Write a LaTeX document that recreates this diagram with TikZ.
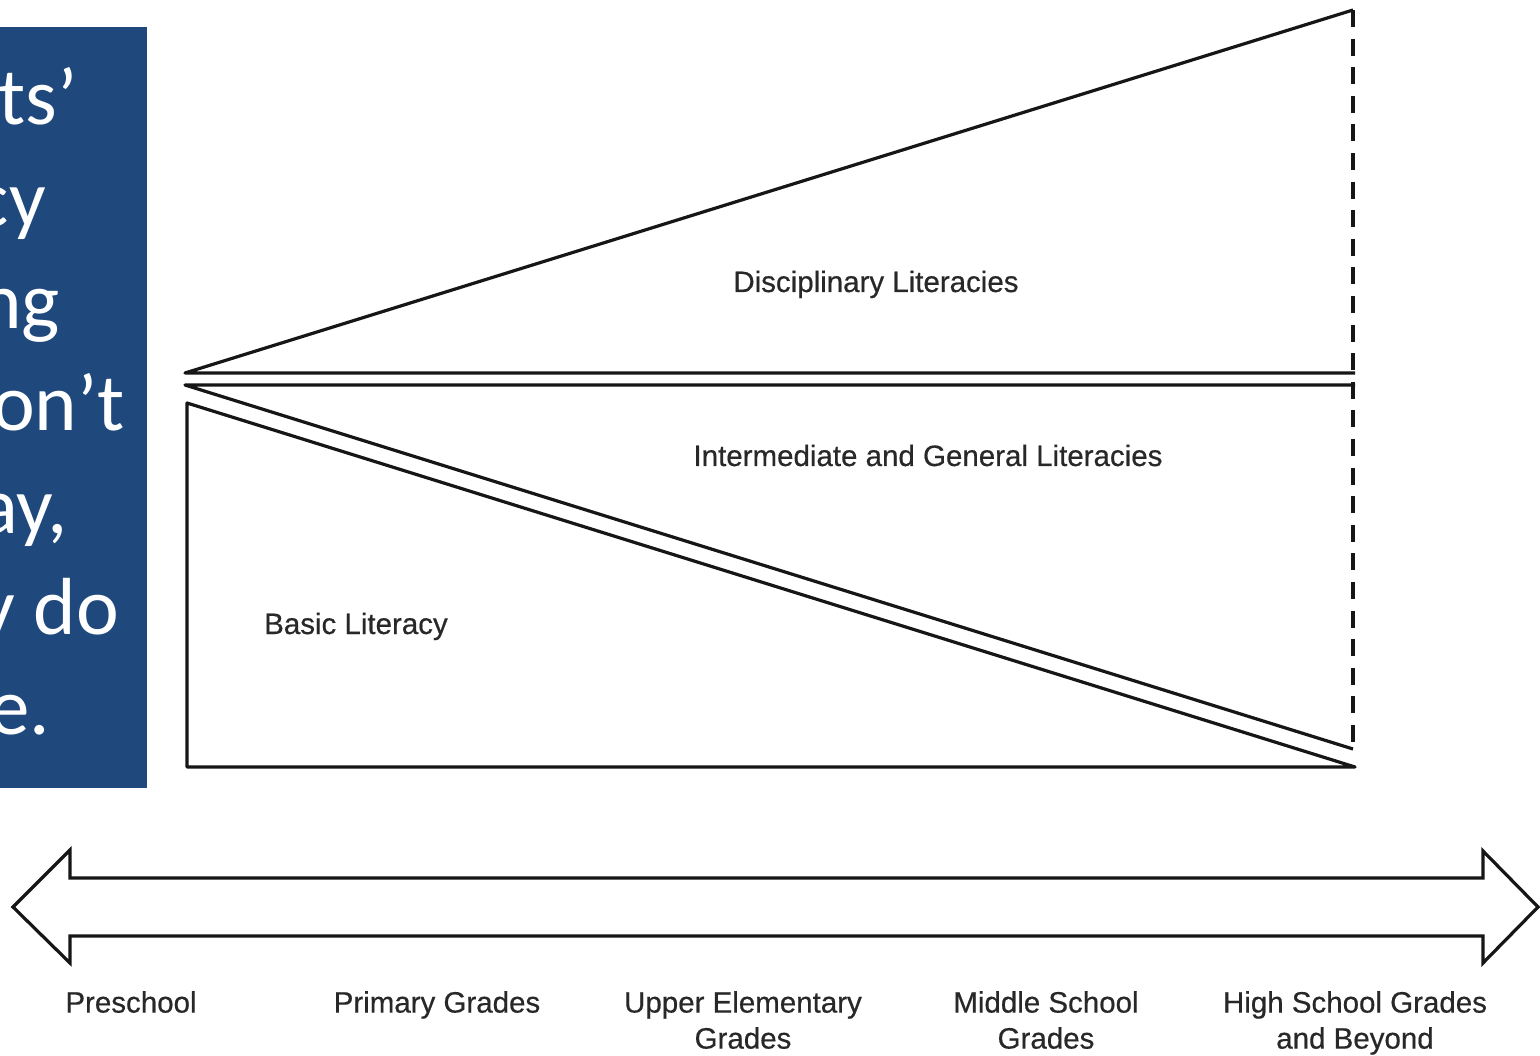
\documentclass[tikz,border=0pt]{standalone}
\usepackage{fontspec}
\setmainfont{Liberation Sans}
\newfontfamily\slidefont{Carlito}
\newfontfamily\diagfont{Liberation Sans}[FakeBold=0.5]
\newcommand\diaglabelfont{\diagfont\fontsize{29.5}{36}\selectfont}
\newcommand\slidetextfont{\slidefont\fontsize{81}{100}\selectfont}
\definecolor{slideblue}{RGB}{31,73,125}
\definecolor{inkline}{RGB}{22,22,22}
\definecolor{inktext}{RGB}{40,40,40}

\begin{document}
\begin{tikzpicture}[x=1pt,y=-1pt,
  outline/.style={draw=inkline, line width=3.2pt, line join=round},
  divider/.style={draw=inkline, line width=3.2pt, dash pattern=on 17pt off 11.6pt},
  stagelabel/.style={font=\diaglabelfont, text=inktext, inner sep=0pt, anchor=base},
  gradelabel/.style={font=\diaglabelfont, text=inktext, inner sep=0pt, anchor=north, align=center},
  slideline/.style={font=\slidetextfont, text=white, inner sep=0pt, anchor=base east}]

\useasboundingbox (0,0) rectangle (1540,1056);
\fill[white] (0,0) rectangle (1540,1056);

% slide text panel, its lines running off the left edge
\fill[slideblue] (0,27) rectangle (147,788);
\begin{scope}
  \clip (0,27) rectangle (147,788);
  \node[slideline] (line1) at (78,125) {ts’};
  \node[slideline] (line2) at (46,227) {cy};
  \node[slideline] (line3) at (60,329) {ng};
  \node[slideline] (line4) at (125,431) {on’t};
  \node[slideline] (line5) at (68,533) {ay,};
  \node[slideline] (line6) at (119,634) {y do};
  \node[slideline] (line7) at (50,734) {e.};
\end{scope}

% wedge: disciplinary literacies
\coordinate (apex) at (185,373);
\coordinate (dtop) at (1353,10);
\coordinate (dright) at (1355,373);
\draw[outline] (dright) -- (apex) -- (dtop);

% wedge: intermediate and general literacies
\coordinate (gapex) at (185,385);
\coordinate (gright) at (1355,385);
\coordinate (gend) at (1353,749);
\draw[outline] (gright) -- (gapex) -- (gend);

% wedge: basic literacy
\coordinate (btop) at (187,403);
\coordinate (bcorner) at (187,767);
\coordinate (bend) at (1355,767);
\draw[outline] (btop) -- (bcorner) -- (bend) -- cycle;

% dashed right boundary
\coordinate (dbottom) at (1353,749);
\draw[divider] (dtop) -- (dbottom);

% band labels
\node[stagelabel] (disc) at (876,292) {Disciplinary Literacies};
\node[stagelabel] (inter) at (928,466) {Intermediate and General Literacies};
\node[stagelabel] (basic) at (356,634) {Basic Literacy};

% double-headed timeline arrow
\draw[outline, line join=miter]
  (13,907) -- (70,850) -- (70,878) -- (1483,878) -- (1483,851)
  -- (1538,907) -- (1483,963) -- (1483,936) -- (70,936) -- (70,963) -- cycle;

% grade levels
\node[gradelabel] (pre) at (131,991) {Preschool};
\node[gradelabel] (prim) at (437,991) {Primary Grades};
\node[gradelabel] (upper) at (743,991) {Upper Elementary\\Grades};
\node[gradelabel] (middle) at (1046,991) {Middle School\\Grades};
\node[gradelabel] (high) at (1355,991) {High School Grades\\and Beyond};
\end{tikzpicture}
\end{document}
